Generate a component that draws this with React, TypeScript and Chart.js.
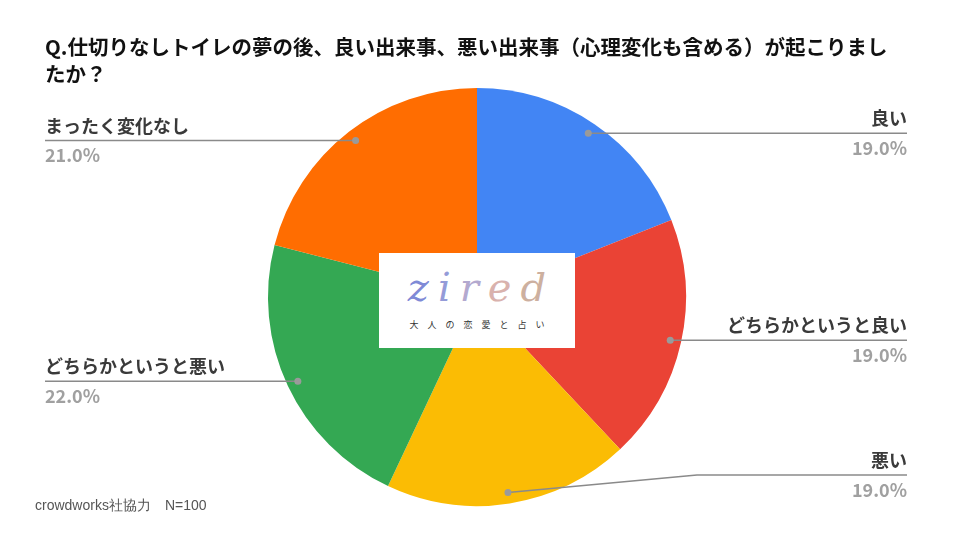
import React, { useEffect, useRef } from "react";
import { Chart, registerables } from "chart.js";

Chart.register(...registerables);

const TITLE_LINE1 = "Q.仕切りなしトイレの夢の後、良い出来事、悪い出来事（心理変化も含める）が起こりまし";
const TITLE_LINE2 = "たか？";
const FOOTER = "crowdworks社協力　N=100";
const CATEGORIES = ["良い", "どちらかというと良い", "悪い", "どちらかというと悪い", "まったく変化なし"];
const VALUES = [19, 19, 19, 22, 21];
const COLORS = ["#4285F4", "#EA4335", "#FBBC04", "#34A853", "#FF6D01"];
const LOGO_LETTERS = ["z", "i", "r", "e", "d"];
const LOGO_COLORS = ["#7f8ad6", "#949bd8", "#b3a9cf", "#d9b2ad", "#cdb09f"];
const LOGO_SUB = "大人の恋愛と占い";

const FONT = '"Noto Sans CJK JP", "Noto Sans", sans-serif';

const leaderPlugin = {
  id: "leaders",
  afterDatasetsDraw(chart: any) {
    const ctx = chart.ctx;
    const meta = chart.getDatasetMeta(0);
    const total = VALUES.reduce((a, b) => a + b, 0);
    // elbow override for crowded labels (layout only)
    const elbowY: Record<number, number> = { 2: 475 };
    const elbowX: Record<number, number> = { 2: 697 };
    meta.data.forEach((arc: any, i: number) => {
      const mid = (arc.startAngle + arc.endAngle) / 2;
      const r = arc.outerRadius - 11;
      const dx = arc.x + Math.cos(mid) * r;
      const dy = arc.y + Math.sin(mid) * r;
      const right = Math.cos(mid) >= 0;
      const endX = right ? 907 : 45;
      const lineY = elbowY[i] !== undefined ? elbowY[i] : dy;
      ctx.save();
      ctx.strokeStyle = "#8a8a8a";
      ctx.lineWidth = 1.6;
      ctx.beginPath();
      ctx.moveTo(dx, dy);
      if (elbowY[i] !== undefined) {
        ctx.lineTo(elbowX[i], lineY);
      }
      ctx.lineTo(endX, lineY);
      ctx.stroke();
      ctx.fillStyle = "#9a9a9a";
      ctx.beginPath();
      ctx.arc(dx, dy, 3.5, 0, Math.PI * 2);
      ctx.fill();
      ctx.textAlign = right ? "right" : "left";
      ctx.font = `bold 18px ${FONT}`;
      ctx.fillStyle = "#3a3a3a";
      ctx.textBaseline = "alphabetic";
      ctx.fillText(CATEGORIES[i], endX, lineY - 8);
      ctx.fillStyle = "#a0a0a0";
      ctx.font = `bold 18px ${FONT}`;
      ctx.textBaseline = "top";
      const pct = ((VALUES[i] / total) * 100).toFixed(1) + "%";
      ctx.fillText(pct, endX, lineY + 6);
      ctx.restore();
    });
  },
};

export default function App() {
  const ref = useRef<HTMLCanvasElement>(null);
  useEffect(() => {
    document.body.style.margin = "0";
    const chart = new Chart(ref.current!, {
      type: "pie",
      data: {
        labels: CATEGORIES,
        datasets: [
          {
            data: VALUES,
            backgroundColor: COLORS,
            borderWidth: 0,
          },
        ],
      },
      options: {
        animation: false,
        responsive: false,
        layout: { padding: { top: 88, bottom: 34, left: 268, right: 274 } },
        plugins: { legend: { display: false }, tooltip: { enabled: false } },
      },
      plugins: [leaderPlugin],
    });
    return () => chart.destroy();
  }, []);

  return (
    <div style={{ position: "relative", width: 960, height: 540, background: "#fff", overflow: "hidden" }}>
      <canvas ref={ref} width={960} height={540} style={{ position: "absolute", left: 0, top: 0 }} />
      <div
        style={{
          position: "absolute",
          left: 45,
          top: 33,
          fontFamily: FONT,
          fontWeight: 700,
          fontSize: 20.5,
          lineHeight: "27px",
          color: "#111",
          whiteSpace: "nowrap",
        }}
      >
        <div>{TITLE_LINE1}</div>
        <div>{TITLE_LINE2}</div>
      </div>
      <div
        style={{
          position: "absolute",
          left: 379,
          top: 253,
          width: 196,
          height: 95,
          background: "#fff",
          textAlign: "center",
        }}
      >
        <div
          style={{
            marginTop: 10,
            fontFamily: '"DejaVu Serif", serif',
            fontStyle: "italic",
            fontWeight: 300,
            fontSize: 40,
            lineHeight: "48px",
            letterSpacing: "9px",
            paddingLeft: 9,
          }}
        >
          {LOGO_LETTERS.map((c, i) => (
            <span key={i} style={{ color: LOGO_COLORS[i] }}>
              {c}
            </span>
          ))}
        </div>
        <div
          style={{
            marginTop: 7,
            fontFamily: FONT,
            fontSize: 9,
            letterSpacing: "9px",
            paddingLeft: 9,
            color: "#333",
          }}
        >
          {LOGO_SUB}
        </div>
      </div>
      <div
        style={{
          position: "absolute",
          left: 35,
          top: 497,
          fontFamily: '"Liberation Sans", Arial, sans-serif',
          fontSize: 14,
          color: "#555",
          whiteSpace: "pre",
        }}
      >
        {FOOTER}
      </div>
    </div>
  );
}
